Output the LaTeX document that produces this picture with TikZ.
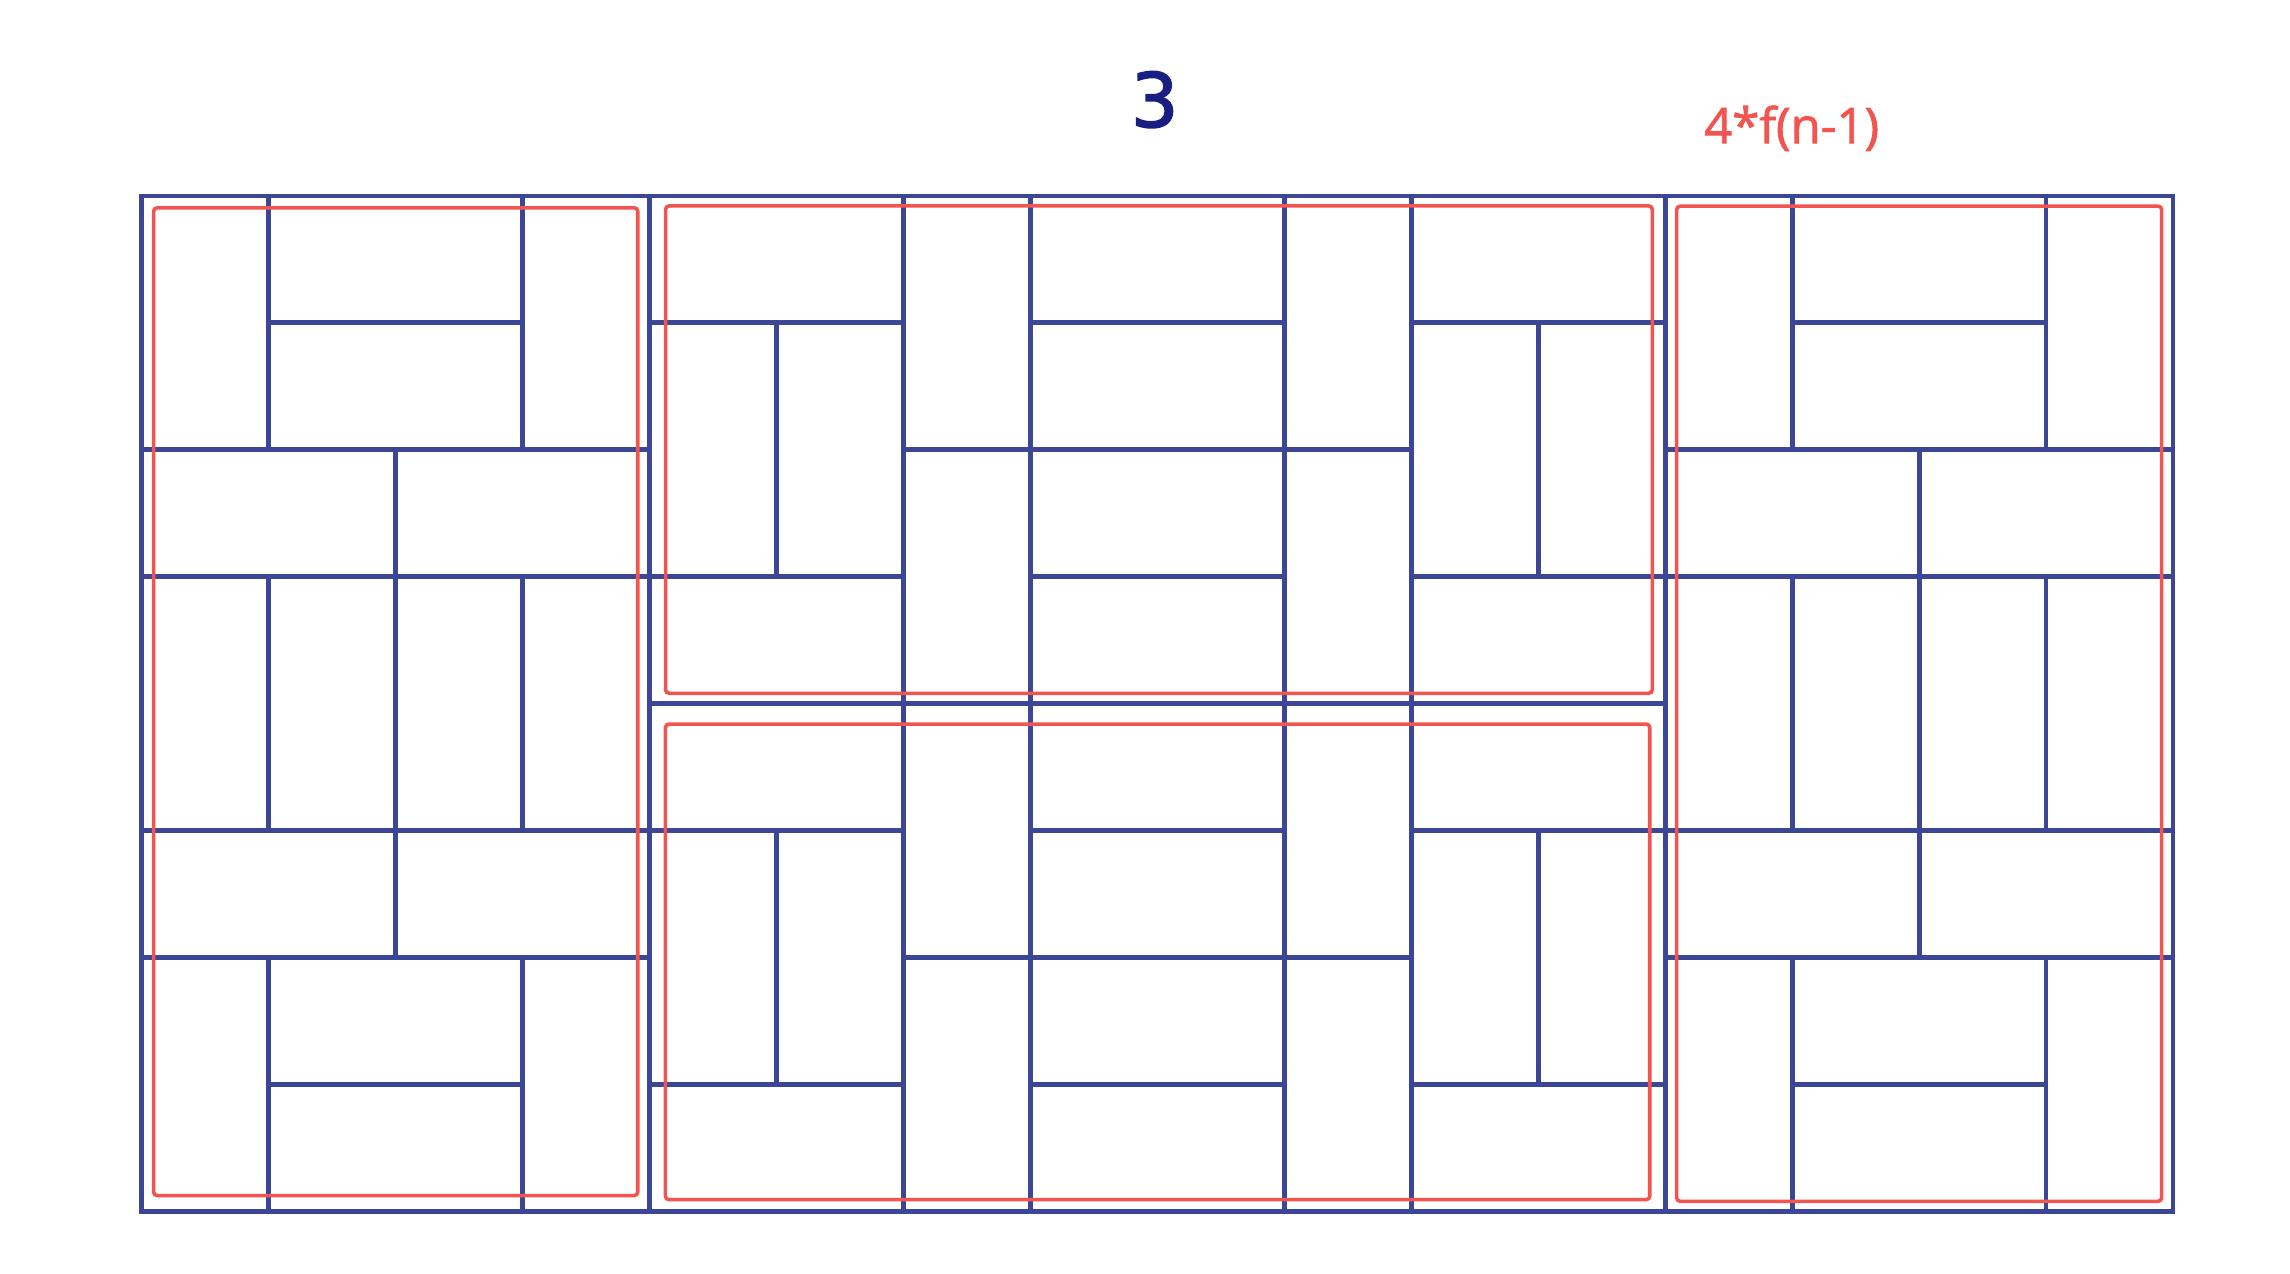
\documentclass[tikz,border=0pt]{standalone}
\usepackage{fontspec}
\setmainfont{DejaVu Sans}
\newfontfamily\numfont[FakeBold=2]{DejaVu Sans}
\newfontfamily\labfont[FakeBold=1.6]{Open Sans}
\definecolor{tileblue}{RGB}{60,70,150}
\definecolor{numblue}{RGB}{25,30,130}
\definecolor{boxred}{RGB}{242,84,80}
\begin{document}
\begin{tikzpicture}[x=1cm,y=1cm,
  tileline/.style={draw=tileblue,line width=1.05pt,line cap=rect},
  redbox/.style={draw=boxred,line width=0.8pt,rounded corners=0.8pt},
  numlabel/.style={text=numblue,font=\numfont\fontsize{16.8pt}{18pt}\selectfont,inner sep=0pt,anchor=base},
  formlabel/.style={text=boxred,font=\labfont\fontsize{11pt}{12pt}\selectfont,inner sep=0pt,anchor=base west}]
\useasboundingbox (-1.116,-0.488) rectangle (16.921,9.543);
% outer frame
\draw[tileline] (0,0) rectangle (16,8);
% full-height verticals
\foreach \x in {4,6,7,9,10,12} \draw[tileline] (\x,0) -- (\x,8);
% partial verticals
\foreach \x in {5,11} {\draw[tileline] (\x,5) -- (\x,7); \draw[tileline] (\x,1) -- (\x,3);}
\foreach \x in {1,3,13,15} {\draw[tileline] (\x,6) -- (\x,8); \draw[tileline] (\x,3) -- (\x,5); \draw[tileline] (\x,0) -- (\x,2);}
\foreach \x in {2,14} \draw[tileline] (\x,2) -- (\x,6);
% horizontals
\foreach \y in {1,7} \foreach \a/\b in {1/3,4/6,7/9,10/12,13/15} \draw[tileline] (\a,\y) -- (\b,\y);
\foreach \y in {2,6} \foreach \a/\b in {0/4,6/10,12/16} \draw[tileline] (\a,\y) -- (\b,\y);
\foreach \y in {3,5} \foreach \a/\b in {0/6,7/9,10/16} \draw[tileline] (\a,\y) -- (\b,\y);
\draw[tileline] (4,4) -- (12,4);
% red boxes
\draw[redbox] (0.094,0.126) rectangle (3.907,7.906);
\draw[redbox] (4.126,4.082) rectangle (11.898,7.921);
\draw[redbox] (4.125,0.094) rectangle (11.878,3.84);
\draw[redbox] (12.09,0.081) rectangle (15.91,7.919);
% labels
\node[numlabel] (three) at (7.979,8.543) {3};
\node[formlabel] (formula) at (12.30,8.415) {4*f(n-1)};
\end{tikzpicture}
\end{document}
